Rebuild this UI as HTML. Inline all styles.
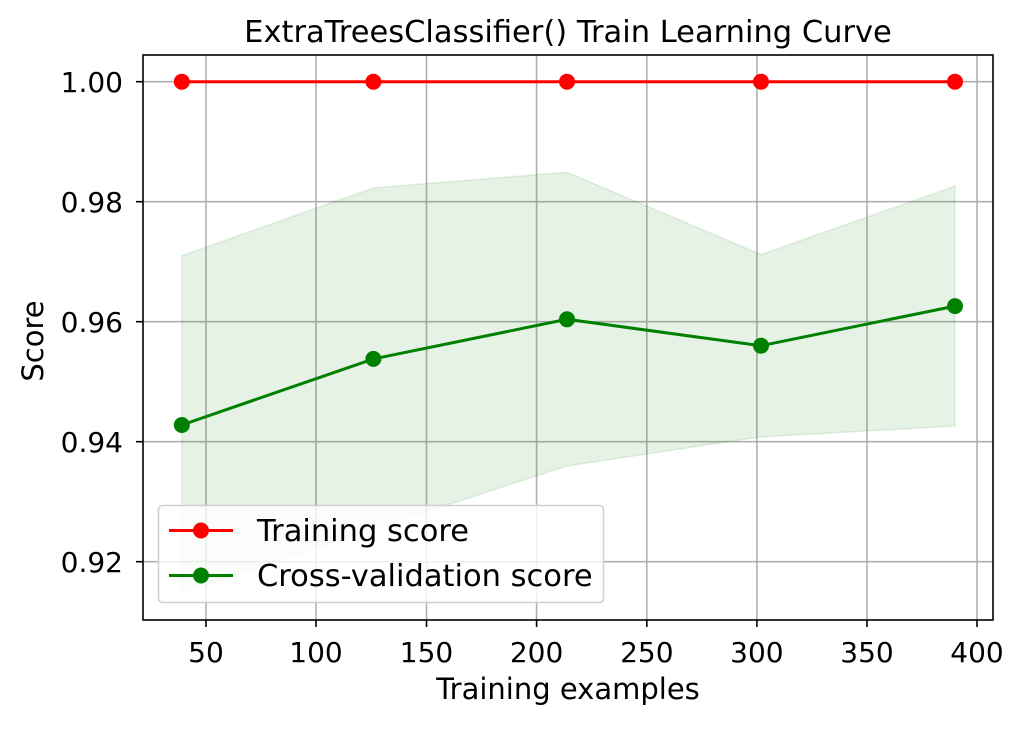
<!DOCTYPE html>
<html><head><style>body{margin:0;background:#fff}</style></head><body>
<svg width="1024" height="724" xmlns="http://www.w3.org/2000/svg" font-family="DejaVu Sans, Liberation Sans, sans-serif">
<rect width="1024" height="724" fill="#fff"/>
<g stroke="#b0b0b0" stroke-width="1.6">
<line x1="206" y1="55" x2="206" y2="620"/><line x1="316" y1="55" x2="316" y2="620"/><line x1="426.5" y1="55" x2="426.5" y2="620"/><line x1="536.6" y1="55" x2="536.6" y2="620"/><line x1="646.8" y1="55" x2="646.8" y2="620"/><line x1="756.9" y1="55" x2="756.9" y2="620"/><line x1="867" y1="55" x2="867" y2="620"/><line x1="977" y1="55" x2="977" y2="620"/>
<line x1="143" y1="81.7" x2="993" y2="81.7"/><line x1="143" y1="201.7" x2="993" y2="201.7"/><line x1="143" y1="321.7" x2="993" y2="321.7"/><line x1="143" y1="441.7" x2="993" y2="441.7"/><line x1="143" y1="561.7" x2="993" y2="561.7"/>
</g>
<polygon points="181.8,255.7 373.4,187.9 567,172.3 761,254.5 955,186.1 955,426 761,436.9 567,466 373.4,529 181.8,593" fill="#008000" fill-opacity="0.1" stroke="#008000" stroke-opacity="0.1" stroke-width="1.5"/>
<polyline points="181.8,81.7 373.4,81.7 567,81.7 761,81.7 955,81.7" fill="none" stroke="#ff0000" stroke-width="3"/>
<g fill="#ff0000"><circle cx="181.8" cy="81.7" r="8"/><circle cx="373.4" cy="81.7" r="8"/><circle cx="567" cy="81.7" r="8"/><circle cx="761" cy="81.7" r="8"/><circle cx="955" cy="81.7" r="8"/></g>
<polyline points="181.8,425 373.4,358.9 567,319.3 761,345.7 955,306.1" fill="none" stroke="#008000" stroke-width="3"/>
<g fill="#008000"><circle cx="181.8" cy="425" r="8"/><circle cx="373.4" cy="358.9" r="8"/><circle cx="567" cy="319.3" r="8"/><circle cx="761" cy="345.7" r="8"/><circle cx="955" cy="306.1" r="8"/></g>
<rect x="143" y="55" width="850" height="565" fill="none" stroke="#000" stroke-width="1.6"/>
<g stroke="#000" stroke-width="1.6">
<line x1="206" y1="620" x2="206" y2="627"/><line x1="316" y1="620" x2="316" y2="627"/><line x1="426.5" y1="620" x2="426.5" y2="627"/><line x1="536.6" y1="620" x2="536.6" y2="627"/><line x1="646.8" y1="620" x2="646.8" y2="627"/><line x1="756.9" y1="620" x2="756.9" y2="627"/><line x1="867" y1="620" x2="867" y2="627"/><line x1="977" y1="620" x2="977" y2="627"/>
<line x1="136" y1="81.7" x2="143" y2="81.7"/><line x1="136" y1="201.7" x2="143" y2="201.7"/><line x1="136" y1="321.7" x2="143" y2="321.7"/><line x1="136" y1="441.7" x2="143" y2="441.7"/><line x1="136" y1="561.7" x2="143" y2="561.7"/>
</g>
<g font-size="28" text-anchor="middle" fill="#000">
<text x="206" y="662">50</text><text x="316" y="662">100</text><text x="426.5" y="662">150</text><text x="536.6" y="662">200</text><text x="646.8" y="662">250</text><text x="756.9" y="662">300</text><text x="867" y="662">350</text><text x="977" y="662">400</text>
</g>
<g font-size="28" text-anchor="end" fill="#000">
<text x="123" y="92">1.00</text><text x="123" y="212">0.98</text><text x="123" y="332">0.96</text><text x="123" y="452">0.94</text><text x="123" y="572">0.92</text>
</g>
<text x="568" y="699" font-size="29" text-anchor="middle">Training examples</text>
<text transform="translate(43,341) rotate(-90)" font-size="29" text-anchor="middle">Score</text>
<text x="568" y="42" font-size="30.5" text-anchor="middle">ExtraTreesClassifier() Train Learning Curve</text>
<rect x="158.5" y="505.5" width="445" height="97" rx="4" fill="#fff" fill-opacity="0.8" stroke="#d0d0d0" stroke-width="1.5"/>
<line x1="169" y1="530.5" x2="233" y2="530.5" stroke="#ff0000" stroke-width="3"/><circle cx="201" cy="530.5" r="8" fill="#ff0000"/>
<line x1="169" y1="575.5" x2="233" y2="575.5" stroke="#008000" stroke-width="3"/><circle cx="201" cy="575.5" r="8" fill="#008000"/>
<text x="257" y="541" font-size="30.5">Training score</text>
<text x="257" y="586" font-size="30.5">Cross-validation score</text>
</svg>
</body></html>
